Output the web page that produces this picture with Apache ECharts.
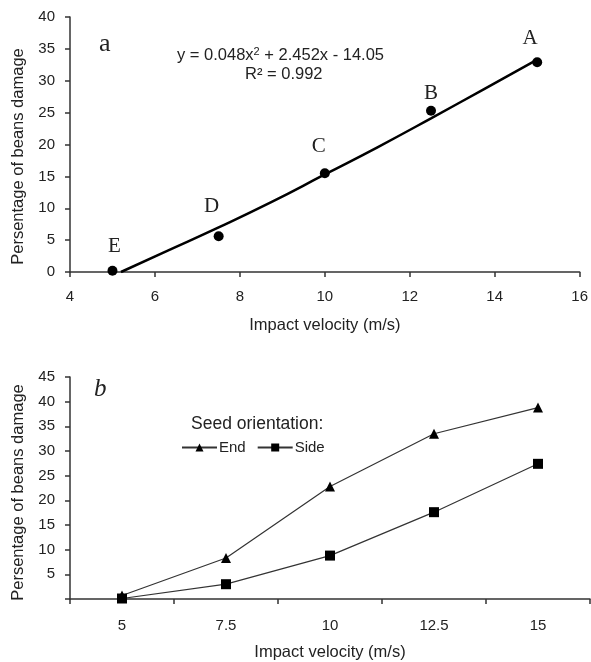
<!DOCTYPE html>
<html>
<head>
<meta charset="utf-8">
<script src="https://cdn.jsdelivr.net/npm/echarts@6/dist/echarts.min.js"></script>
<style>
  html, body { margin: 0; padding: 0; background: #fff; }
  #main { width: 591px; height: 662px; }
</style>
</head>
<body>
<div id="main"></div>
<script>
// chart a: damage vs impact velocity
var velA = [15, 12.5, 10, 7.5, 5];
var damageA = [32.9, 25.3, 15.5, 5.6, 0.2];
var pointNames = ['A', 'B', 'C', 'D', 'E'];
// trend line
var trendX = [5.2, 6.25, 7.5, 8.75, 10, 11.25, 12.5, 13.75, 15];
var trendY = [0, 3.2, 7.0, 11.0, 15.3, 19.6, 24.1, 28.7, 33.3];

// chart b: seed orientation
var velB = ['5', '7.5', '10', '12.5', '15'];
var endVals = [0.7, 8.3, 22.8, 33.5, 38.8];
var sideVals = [0.1, 3.0, 8.8, 17.6, 27.4];

// where the A..E letters sit relative to their points (px)
var labelOffsets = [[-7, -24], [0, -17], [-6, -27], [-7, -30], [2, -24]];

var font = 'Liberation Sans, Arial, sans-serif';
var serif = 'Liberation Serif, Times New Roman, serif';
var ink = '#222';

var chart = echarts.init(document.getElementById('main'));

function axisStyle(extra) {
  return Object.assign({
    axisLine: { show: true, onZero: false, lineStyle: { color: '#333', width: 1.5 } },
    axisTick: { show: true, lineStyle: { color: '#333', width: 1.5 }, length: 5 },
    axisLabel: { color: ink, fontFamily: font, fontSize: 15 },
    splitLine: { show: false },
    nameTextStyle: { color: ink, fontFamily: font, fontSize: 16.5 }
  }, extra);
}

var option = {
  animation: false,
  backgroundColor: '#fff',
  grid: [
    { left: 70, top: 17, width: 510, height: 255 },
    { left: 70, top: 377, width: 520, height: 222 }
  ],
  title: [
    { text: 'a', left: 94, top: 26, textStyle: { fontFamily: serif, fontSize: 26, fontWeight: 'normal', color: ink } },
    { text: 'b', left: 89, top: 372, textStyle: { fontFamily: serif, fontSize: 25, fontStyle: 'italic', fontWeight: 'normal', color: ink } },
    {
      text: 'y = 0.048x{sup|2} + 2.452x - 14.05',
      left: 172, top: 41,
      textStyle: {
        fontFamily: font, fontSize: 16.5, fontWeight: 'normal', color: ink,
        rich: { sup: { fontSize: 11, verticalAlign: 'top', padding: [0, 0, 7, 0], fontFamily: font, color: ink } }
      }
    },
    { text: 'R² = 0.992', left: 240, top: 61, textStyle: { fontFamily: font, fontSize: 16.5, fontWeight: 'normal', color: ink } },
    { text: 'Seed orientation:', left: 186, top: 410, textStyle: { fontFamily: font, fontSize: 17.5, fontWeight: 'normal', color: ink } }
  ],
  legend: {
    data: ['End', 'Side'],
    left: 176, top: 435,
    itemWidth: 35, itemHeight: 10, itemGap: 11,
    textStyle: { fontFamily: font, fontSize: 15, color: ink, padding: [0, 0, 0, -3] }
  },
  xAxis: [
    axisStyle({
      gridIndex: 0, type: 'value', min: 4, max: 16, interval: 2,
      axisLabel: { color: ink, fontFamily: font, fontSize: 15, margin: 17 },
      name: 'Impact velocity (m/s)', nameLocation: 'middle', nameGap: 45
    }),
    axisStyle({
      gridIndex: 1, type: 'category', data: velB, boundaryGap: true,
      axisLabel: { color: ink, fontFamily: font, fontSize: 15, margin: 19 },
      name: 'Impact velocity (m/s)', nameLocation: 'middle', nameGap: 45
    })
  ],
  yAxis: [
    axisStyle({
      gridIndex: 0, type: 'value', min: 0, max: 40, interval: 5,
      axisLabel: { color: ink, fontFamily: font, fontSize: 15, margin: 15 },
      name: 'Persentage of beans damage', nameLocation: 'middle', nameGap: 41,
      nameTextStyle: { color: ink, fontFamily: font, fontSize: 16.5, padding: [0, 24, 0, 0] }
    }),
    axisStyle({
      gridIndex: 1, type: 'value', min: 0, max: 45, interval: 5,
      axisLabel: {
        color: ink, fontFamily: font, fontSize: 15, margin: 15,
        formatter: function (v) { return v === 0 ? '' : v; }
      },
      name: 'Persentage of beans damage', nameLocation: 'middle', nameGap: 41,
      nameTextStyle: { color: ink, fontFamily: font, fontSize: 16.5, padding: [0, 9, 0, 0] }
    })
  ],
  series: [
    {
      name: 'trend', type: 'line', xAxisIndex: 0, yAxisIndex: 0,
      data: trendX.map(function (x, i) { return [x, trendY[i]]; }),
      smooth: true, showSymbol: false,
      lineStyle: { color: '#000', width: 2.5 }, z: 2
    },
    {
      name: 'points', type: 'scatter', xAxisIndex: 0, yAxisIndex: 0,
      data: velA.map(function (x, i) {
        return {
          value: [x, damageA[i]], name: pointNames[i],
          label: { offset: labelOffsets[i] }
        };
      }),
      symbol: 'circle', symbolSize: 10,
      itemStyle: { color: '#000', opacity: 1 },
      label: {
        show: true, position: 'inside',
        formatter: '{b}', fontFamily: serif, fontSize: 21, color: ink
      },
      z: 3
    },
    {
      name: 'End', type: 'line', xAxisIndex: 1, yAxisIndex: 1,
      data: endVals, symbol: 'triangle', symbolSize: 10,
      lineStyle: { color: '#333', width: 1.2 },
      itemStyle: { color: '#000' }
    },
    {
      name: 'Side', type: 'line', xAxisIndex: 1, yAxisIndex: 1,
      data: sideVals, symbol: 'rect', symbolSize: 10,
      lineStyle: { color: '#333', width: 1.2 },
      itemStyle: { color: '#000' }
    }
  ]
};

chart.setOption(option);
</script>
</body>
</html>
